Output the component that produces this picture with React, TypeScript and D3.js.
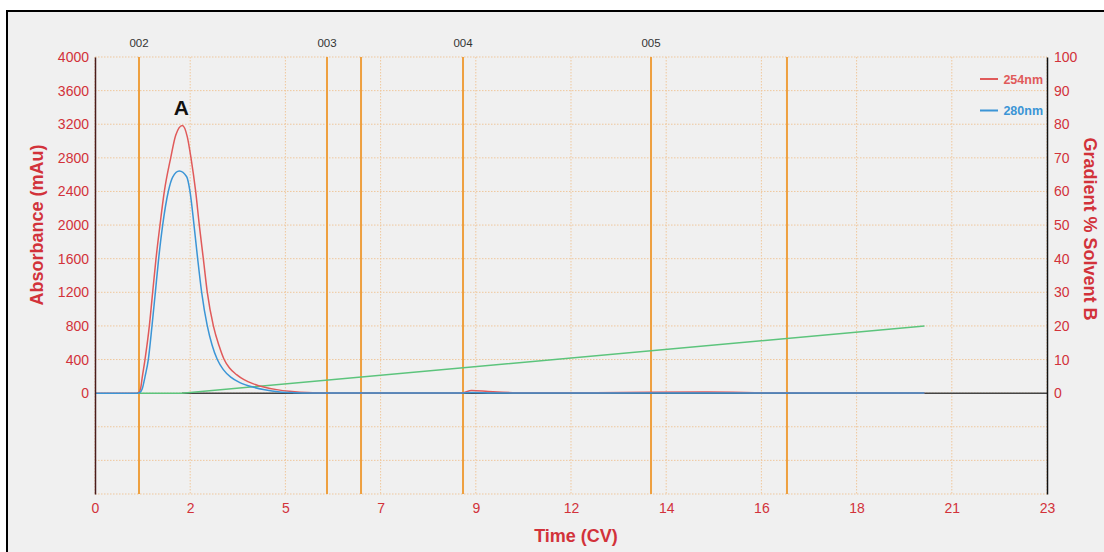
import React, { useEffect, useRef } from 'react';
import * as d3 from 'd3';

const width = 1104;
const height = 552;
const margin = { top: 57, right: 57, bottom: 58, left: 95 };

// axis ticks
const xTickValues = [0, 2.3, 4.6, 6.9, 9.2, 11.5, 13.8, 16.1, 18.4, 20.7, 23];
const leftTicks = [0, 400, 800, 1200, 1600, 2000, 2400, 2800, 3200, 3600, 4000];
const leftGrid = [-1200, -800, -400, 0, 400, 800, 1200, 1600, 2000, 2400, 2800, 3200, 3600, 4000];
const rightTicks = [0, 10, 20, 30, 40, 50, 60, 70, 80, 90, 100];

// fraction markers (CV)
const fractionLines = [1.063, 5.605, 6.427, 8.891, 13.433, 16.718];
const fractionLabels = ['002', '003', '', '004', '005', ''];

// 254nm trace [CV, mAu]
const trace254 = [
  [0, 0], [1.0, 0], [1.05, 5], [1.1, 50], [1.143, 194], [1.208, 400], [1.313, 800],
  [1.393, 1200], [1.474, 1600], [1.57, 2000], [1.675, 2400], [1.829, 2800], [1.95, 3070],
  [2.11, 3185], [2.23, 3050], [2.319, 2800], [2.432, 2400], [2.52, 2000], [2.617, 1600],
  [2.713, 1200], [2.86, 800], [3.0, 560], [3.12, 400], [3.25, 300], [3.42, 220], [3.6, 160],
  [3.83, 110], [4.1, 70], [4.39, 42], [4.7, 22], [4.95, 12], [5.6, 3], [8.85, 2],
  [9.1, 32], [9.5, 20], [10.2, 6], [12, 5], [14.8, 14], [16.5, 4], [20.04, 2],
];

// 280nm trace [CV, mAu]
const trace280 = [
  [0, 0], [1.02, 0], [1.08, 8], [1.14, 50], [1.208, 194], [1.288, 400], [1.377, 800],
  [1.458, 1200], [1.538, 1600], [1.635, 2000], [1.771, 2400], [1.88, 2575], [2.037, 2643],
  [2.215, 2575], [2.295, 2400], [2.392, 2000], [2.48, 1600], [2.577, 1200], [2.713, 800],
  [2.83, 570], [2.955, 400], [3.1, 280], [3.28, 190], [3.5, 125], [3.83, 70], [4.1, 40],
  [4.47, 15], [4.8, 6], [5.2, 2], [8.85, 1], [9.1, 8], [9.6, 3], [20.04, 1],
];

// gradient [CV, %B]
const gradient = [[1.06, 0], [2.1, 0], [20.04, 20]];
const baseline = [[2.1, 0], [23, 0]];

const legendItems = [
  { label: '254nm', color: '#e05a5a' },
  { label: '280nm', color: '#3b95d6' },
];

const font = '"Liberation Sans", Arial, Helvetica, sans-serif';
const red = '#d2323a';

export default function App() {
  const ref = useRef<SVGSVGElement | null>(null);

  useEffect(() => {
    const svg = d3.select(ref.current);
    svg.selectAll('*').remove();

    const x = d3.scaleLinear().domain([0, 23]).range([margin.left, width - margin.right]);
    const yL = d3.scaleLinear().domain([-1200, 4000]).range([height - margin.bottom, margin.top]);
    const yR = d3.scaleLinear().domain([-30, 100]).range([height - margin.bottom, margin.top]);

    // frame
    svg.append('rect').attr('width', width).attr('height', height).attr('fill', '#ffffff');
    svg.append('rect')
      .attr('x', 7).attr('y', 11).attr('width', width).attr('height', height)
      .attr('fill', '#f0f0f0').attr('stroke', '#000').attr('stroke-width', 2);

    // grid
    const grid = svg.append('g')
      .attr('stroke', '#efc79c').attr('stroke-width', 1).attr('stroke-dasharray', '1.5,1.5');
    grid.selectAll('.h').data(leftGrid).join('line')
      .attr('x1', margin.left).attr('x2', width - margin.right)
      .attr('y1', d => yL(d)).attr('y2', d => yL(d));
    grid.selectAll('.v').data(xTickValues).join('line')
      .attr('x1', d => x(d)).attr('x2', d => x(d))
      .attr('y1', margin.top).attr('y2', height - margin.bottom);

    // fraction lines
    svg.append('g').selectAll('line').data(fractionLines).join('line')
      .attr('x1', d => x(d)).attr('x2', d => x(d))
      .attr('y1', margin.top).attr('y2', height - margin.bottom)
      .attr('stroke', '#eea040').attr('stroke-width', 2);
    svg.append('g').selectAll('text').data(fractionLines).join('text')
      .attr('x', d => x(d)).attr('y', 47)
      .attr('text-anchor', 'middle')
      .attr('font-family', font).attr('font-size', 11.5).attr('fill', '#333')
      .text((d, i) => fractionLabels[i]);

    const lineL = d3.line<number[]>().x(d => x(d[0])).y(d => yL(d[1])).curve(d3.curveMonotoneX);
    const lineR = d3.line<number[]>().x(d => x(d[0])).y(d => yR(d[1]));

    svg.append('path').datum(baseline).attr('d', lineR)
      .attr('fill', 'none').attr('stroke', '#444').attr('stroke-width', 1.5);
    svg.append('path').datum(gradient).attr('d', lineR)
      .attr('fill', 'none').attr('stroke', '#5cc47c').attr('stroke-width', 1.5);
    svg.append('path').datum(trace254).attr('d', lineL)
      .attr('fill', 'none').attr('stroke', legendItems[0].color).attr('stroke-width', 1.5);
    svg.append('path').datum(trace280).attr('d', lineL)
      .attr('fill', 'none').attr('stroke', legendItems[1].color).attr('stroke-width', 1.5);

    // axes
    const left = svg.append('g')
      .attr('transform', `translate(${margin.left},0)`)
      .call(d3.axisLeft(yL).tickValues(leftTicks).tickSize(0).tickPadding(6).tickFormat(d3.format('d')));
    left.select('.domain').attr('stroke', '#4a1c1c').attr('stroke-width', 1.5);
    left.selectAll('text').attr('font-family', font).attr('font-size', 14).attr('fill', red);

    const right = svg.append('g')
      .attr('transform', `translate(${width - margin.right},0)`)
      .call(d3.axisRight(yR).tickValues(rightTicks).tickSize(0).tickPadding(7));
    right.select('.domain').attr('stroke', '#111').attr('stroke-width', 1.5);
    right.selectAll('text').attr('font-family', font).attr('font-size', 14).attr('fill', red);

    const bottom = svg.append('g')
      .attr('transform', `translate(0,${height - margin.bottom})`)
      .call(d3.axisBottom(x).tickValues(xTickValues).tickSize(0).tickPadding(9)
        .tickFormat(d => String(Math.round(+d))));
    bottom.select('.domain').remove();
    bottom.selectAll('text').attr('font-family', font).attr('font-size', 14).attr('fill', red);

    // titles
    const midPos = (yL(0) + yL(4000)) / 2;
    svg.append('text')
      .attr('transform', `translate(43,${midPos}) rotate(-90)`)
      .attr('text-anchor', 'middle')
      .attr('font-family', font).attr('font-size', 18).attr('font-weight', 'bold').attr('fill', red)
      .text('Absorbance (mAu)');
    svg.append('text')
      .attr('transform', `translate(1084,${midPos + 4}) rotate(90)`)
      .attr('text-anchor', 'middle')
      .attr('font-family', font).attr('font-size', 18).attr('font-weight', 'bold').attr('fill', red)
      .text('Gradient % Solvent B');
    svg.append('text')
      .attr('x', 576).attr('y', 542)
      .attr('text-anchor', 'middle')
      .attr('font-family', font).attr('font-size', 18).attr('font-weight', 'bold').attr('fill', red)
      .text('Time (CV)');

    // peak label
    svg.append('text')
      .attr('x', x(2.11) - 1).attr('y', 115)
      .attr('text-anchor', 'middle')
      .attr('font-family', font).attr('font-size', 21).attr('font-weight', 'bold').attr('fill', '#111')
      .text('A');

    // legend
    const legend = svg.append('g');
    legendItems.forEach((item, i) => {
      const ly = 79 + i * 31.5;
      legend.append('line')
        .attr('x1', 980).attr('x2', 998).attr('y1', ly).attr('y2', ly)
        .attr('stroke', item.color).attr('stroke-width', 2);
      legend.append('text')
        .attr('x', 1043).attr('y', ly + 4.5)
        .attr('text-anchor', 'end')
        .attr('font-family', font).attr('font-size', 12.5).attr('font-weight', 'bold')
        .attr('fill', item.color)
        .text(item.label);
    });
  }, []);

  return (
    <div style={{ position: 'absolute', left: 0, top: 0 }}>
      <svg ref={ref} width={width} height={height} style={{ display: 'block' }} />
    </div>
  );
}
